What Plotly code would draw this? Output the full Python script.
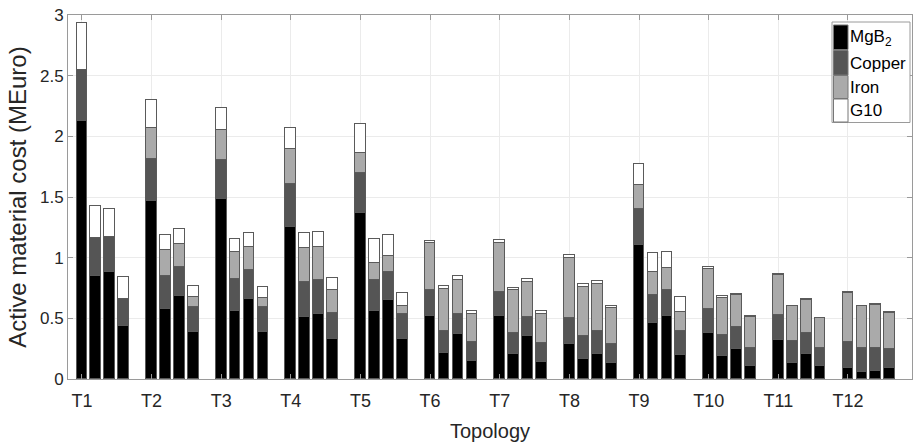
import plotly.graph_objects as go

topologies = ["T1", "T2", "T3", "T4", "T5", "T6", "T7", "T8", "T9", "T10", "T11", "T12"]
bars_per_topology = 4

mgb2 = [2.130, 0.846, 0.879, 0.440,
        1.467, 0.574, 0.681, 0.387,
        1.484, 0.560, 0.657, 0.385,
        1.250, 0.511, 0.533, 0.327,
        1.365, 0.563, 0.648, 0.332,
        0.519, 0.214, 0.368, 0.146,
        0.522, 0.206, 0.352, 0.143,
        0.291, 0.167, 0.209, 0.132,
        1.102, 0.464, 0.517, 0.195,
        0.382, 0.190, 0.250, 0.104,
        0.321, 0.129, 0.209, 0.110,
        0.091, 0.060, 0.063, 0.091]

copper = [0.420, 0.316, 0.294, 0.217,
          0.343, 0.272, 0.242, 0.204,
          0.318, 0.262, 0.244, 0.206,
          0.357, 0.286, 0.283, 0.220,
          0.333, 0.253, 0.231, 0.201,
          0.212, 0.179, 0.165, 0.156,
          0.195, 0.170, 0.162, 0.151,
          0.212, 0.187, 0.187, 0.156,
          0.296, 0.225, 0.216, 0.198,
          0.195, 0.173, 0.179, 0.151,
          0.204, 0.181, 0.173, 0.145,
          0.211, 0.195, 0.192, 0.156]

iron = [0.000, 0.000, 0.000, 0.000,
        0.261, 0.215, 0.187, 0.082,
        0.247, 0.222, 0.189, 0.074,
        0.289, 0.280, 0.269, 0.187,
        0.162, 0.137, 0.135, 0.066,
        0.387, 0.346, 0.283, 0.234,
        0.401, 0.355, 0.288, 0.239,
        0.497, 0.402, 0.384, 0.294,
        0.203, 0.190, 0.179, 0.157,
        0.330, 0.305, 0.260, 0.253,
        0.335, 0.289, 0.272, 0.245,
        0.407, 0.344, 0.355, 0.300]

g10 = [0.380, 0.261, 0.231, 0.181,
       0.228, 0.128, 0.123, 0.096,
       0.187, 0.112, 0.116, 0.091,
       0.173, 0.129, 0.124, 0.098,
       0.242, 0.198, 0.175, 0.112,
       0.022, 0.025, 0.030, 0.022,
       0.025, 0.022, 0.025, 0.025,
       0.022, 0.024, 0.025, 0.017,
       0.168, 0.157, 0.132, 0.126,
       0.013, 0.016, 0.009, 0.009,
       0.005, 0.005, 0.005, 0.005,
       0.005, 0.005, 0.005, 0.005]

series_names = ["MgB<sub>2</sub>", "Copper", "Iron", "G10"]
series_values = [mgb2, copper, iron, g10]
series_colors = ["#000000", "#555555", "#aaaaaa", "#ffffff"]

y_ticks = [0, 0.5, 1, 1.5, 2, 2.5, 3]
y_tick_labels = ["0", "0.5", "1", "1.5", "2", "2.5", "3"]

slot = bars_per_topology + 1
x_pos = [slot * g + b + 1 for g in range(len(topologies)) for b in range(bars_per_topology)]
tick_pos = [slot * g + 1 for g in range(len(topologies))]

FONT = "Liberation Sans, Arial, sans-serif"
TXT = "#262626"
AX = "#9a9a9a"

fig = go.Figure()
for name, vals, col in zip(series_names, series_values, series_colors):
    fig.add_trace(go.Bar(x=x_pos, y=vals, name=name, width=0.77,
                         marker=dict(color=col, line=dict(color="#5a5a5a", width=1)),
                         showlegend=False))

W, H = 914, 442
L, R, T, B = 68, 2, 15, 63
pw, ph = W - L - R, H - T - B

def px(x):
    return (x - L) / pw

def py(y):
    return (H - B - y) / ph

shapes = []
annotations = []
# legend box
shapes.append(dict(type="rect", xref="paper", yref="paper", x0=px(832), x1=px(910), y0=py(122.5), y1=py(22),
                   line=dict(color=AX, width=1), fillcolor="white", layer="above"))
patch_tops = [25, 50.5, 75.5, 99]
patch_h = [24.5, 24.5, 23, 23]
for i, (name, col) in enumerate(zip(series_names, series_colors)):
    y0 = patch_tops[i]
    y1 = y0 + patch_h[i]
    shapes.append(dict(type="rect", xref="paper", yref="paper", x0=px(833.5), x1=px(848), y0=py(y1), y1=py(y0),
                       line=dict(color="#777777", width=1), fillcolor=col, layer="above"))
    annotations.append(dict(text=name, xref="paper", yref="paper", x=px(848), y=py((y0 + y1) / 2 + 0.5),
                            xanchor="left", yanchor="middle", showarrow=False,
                            font=dict(family=FONT, size=17, color="#000000")))

fig.update_layout(
    width=W, height=H,
    margin=dict(l=L, r=R, t=T, b=B),
    barmode="stack",
    bargap=0,
    plot_bgcolor="white", paper_bgcolor="white",
    showlegend=False,
    shapes=shapes, annotations=annotations,
    xaxis=dict(range=[0, 60.6], tickvals=tick_pos, ticktext=topologies,
               showgrid=True, gridcolor="#ebebeb", gridwidth=1,
               showline=True, linecolor=AX, linewidth=1, mirror="allticks",
               ticks="inside", ticklen=5, tickcolor=AX, zeroline=False,
               ticklabelstandoff=5,
               tickfont=dict(family=FONT, size=18, color=TXT),
               title=dict(text="Topology", font=dict(family=FONT, size=20, color=TXT), standoff=14)),
    yaxis=dict(range=[0, 3], tickvals=y_ticks, ticktext=y_tick_labels,
               showgrid=True, gridcolor="#ebebeb", gridwidth=1,
               showline=True, linecolor=AX, linewidth=1, mirror="allticks",
               ticks="inside", ticklen=5, tickcolor=AX, zeroline=False,
               tickfont=dict(family=FONT, size=17, color=TXT),
               title=dict(text="Active material cost (MEuro)", font=dict(family=FONT, size=24, color=TXT), standoff=6)),
)

fig.write_html("out.html", config={"displayModeBar": False},
               post_script="document.body.style.margin='0px';document.body.style.padding='0px';")
